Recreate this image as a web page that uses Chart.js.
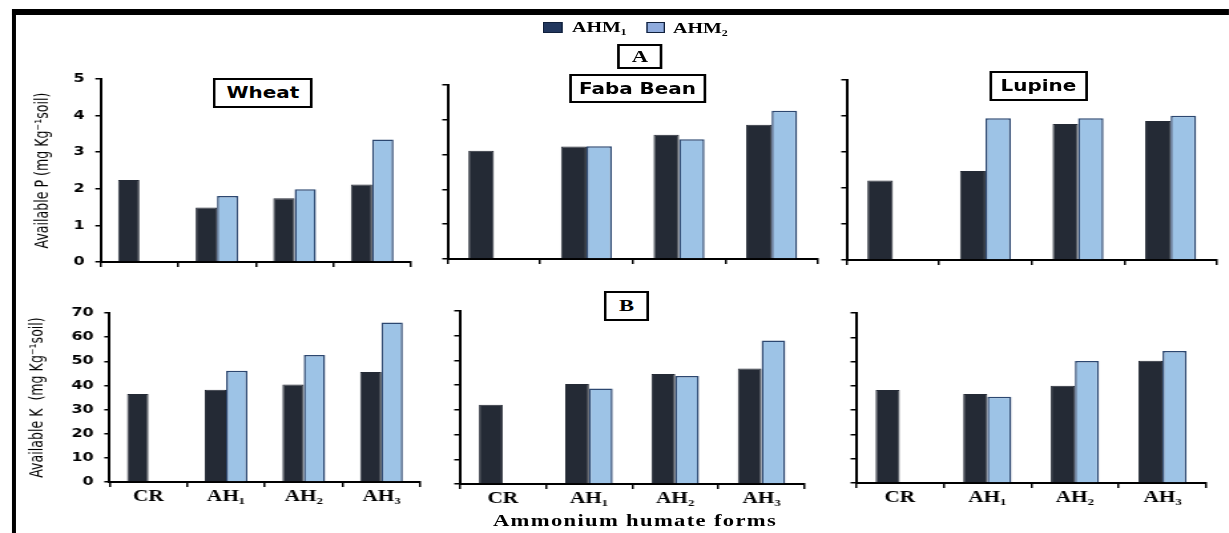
<!DOCTYPE html>
<html>
<head>
<meta charset="utf-8">
<script src="https://cdn.jsdelivr.net/npm/chart.js@4.4.1/dist/chart.umd.min.js"></script>
<style>
  html, body { margin: 0; padding: 0; background: #fff; overflow: hidden; }
  body { width: 1229px; height: 533px; position: relative; }
  #stage { position: absolute; left: 0; top: 0; height: 533px; transform-origin: 0 0; }
  #stage canvas { position: absolute; }
  .frame { position: absolute; background: #000; }
  .box {
    position: absolute; box-sizing: border-box; border: 2px solid #000; background: #fff;
    display: flex; align-items: center; justify-content: center; color: #000;
  }
  .crop { font-family: "DejaVu Sans", Verdana, sans-serif; font-weight: bold; font-size: 15px; }
  .part { font-family: "Liberation Serif", "Times New Roman", serif; font-weight: bold; font-size: 17px; }
  .leg-swatch { position: absolute; box-sizing: border-box; border: 1px solid #10203c; }
  .leg-text, .axis-name {
    position: absolute; font-family: "Liberation Serif", "Times New Roman", serif;
    font-weight: bold; color: #000; white-space: nowrap;
  }
  .leg-text { font-size: 15px; line-height: 15px; }
  .axis-name { font-size: 17px; letter-spacing: 1px; line-height: 17px; }
</style>
</head>
<body>
<div id="stage"></div>
<script>
// Ammonium humate forms on the x axis
const categories = ['CR', 'AH\u2081', 'AH\u2082', 'AH\u2083'];
const seriesNames = ['AHM\u2081', 'AHM\u2082'];

// Available P (mg/kg soil)
const wheatP_AHM1  = [2.24, 1.49, 1.74, 2.12];
const wheatP_AHM2  = [null, 1.80, 1.99, 3.35];
const fabaP_AHM1   = [3.11, 3.23, 3.57, 3.86];
const fabaP_AHM2   = [null, 3.24, 3.44, 4.26];
const lupineP_AHM1 = [2.21, 2.47, 3.78, 3.86];
const lupineP_AHM2 = [null, 3.94, 3.94, 4.01];

// Available K (mg/kg soil)
const wheatK_AHM1  = [36.5, 38.2, 40.4, 45.6];
const wheatK_AHM2  = [null, 46.1, 52.6, 66.1];
const fabaK_AHM1   = [32.1, 40.5, 44.5, 46.7];
const fabaK_AHM2   = [null, 38.6, 43.7, 58.1];
const lupineK_AHM1 = [38.3, 36.6, 40.0, 50.3];
const lupineK_AHM2 = [null, 35.5, 50.2, 54.4];

// Y axis tick values
const pTicks = [0, 1, 2, 3, 4, 5];
const kTicks = [0, 10, 20, 30, 40, 50, 60, 70];

// ---- page layout ----
const SX = 1.33;                 // horizontal stretch of the whole figure
const W = 1229 / SX;
const stage = document.getElementById('stage');
stage.style.width = W + 'px';
stage.style.transform = 'scaleX(' + SX + ')';
const u = x => x / SX;           // page x -> stage x

const DARK = '#242a35';
const LIGHT = '#9dc3e6';
const EDGE = '#2c4770';

function add(cls, x, y, w, h, html) {
  const el = document.createElement('div');
  el.className = cls;
  el.style.left = u(x) + 'px';
  el.style.top = y + 'px';
  if (w != null) el.style.width = u(w) + 'px';
  if (h != null) el.style.height = h + 'px';
  if (html != null) el.innerHTML = html;
  stage.appendChild(el);
  return el;
}

// outer frame (top and left)
add('frame', 12, 9, 1229 - 12, 6);
add('frame', 12, 9, 4, 533 - 9);

const PT = 12, PR = 8;

const panels = [
  { a: wheatP_AHM1,  b: wheatP_AHM2,  ticks: pTicks, L: 100, R: 410,  T: 79,  B: 262, cx: 18,  xh: 10, showX: false, showY: true,
    title: 'Available P (mg Kg\u207B\u00B9soil)', titlePad: 10 },
  { a: fabaP_AHM1,   b: fabaP_AHM2,   ticks: pTicks, L: 448, R: 818,  T: 85,  B: 259, cx: 438, xh: 10, showX: false, showY: false },
  { a: lupineP_AHM1, b: lupineP_AHM2, ticks: pTicks, L: 847, R: 1218, T: 80,  B: 260, cx: 837, xh: 10, showX: false, showY: false },
  { a: wheatK_AHM1,  b: wheatK_AHM2,  ticks: kTicks, L: 109, R: 420,  T: 313, B: 482, cx: 18,  xh: 30, showX: true,  showY: true,
    title: 'Available K  (mg Kg\u207B\u00B9soil)', titlePad: 6 },
  { a: fabaK_AHM1,   b: fabaK_AHM2,   ticks: kTicks, L: 460, R: 805,  T: 311, B: 484, cx: 450, xh: 30, showX: true,  showY: false },
  { a: lupineK_AHM1, b: lupineK_AHM2, ticks: kTicks, L: 856, R: 1207, T: 313, B: 483, cx: 846, xh: 30, showX: true,  showY: false }
];

function makePanel(p) {
  const top = p.T - PT;
  const canvas = document.createElement('canvas');
  canvas.width = Math.round(u(p.R + PR - p.cx));
  canvas.height = p.B + p.xh - top;
  canvas.style.left = u(p.cx) + 'px';
  canvas.style.top = top + 'px';
  stage.appendChild(canvas);
  const yw = u(p.L - p.cx);
  const tk = p.ticks;
  new Chart(canvas, {
    type: 'bar',
    data: {
      labels: categories,
      datasets: [
        { label: seriesNames[0], data: p.a, backgroundColor: DARK, borderColor: DARK, borderWidth: 1 },
        { label: seriesNames[1], data: p.b, backgroundColor: LIGHT, borderColor: EDGE, borderWidth: 1.5 }
      ]
    },
    options: {
      responsive: false,
      animation: false,
      devicePixelRatio: 1,
      layout: { padding: { top: PT, right: u(PR), left: 0, bottom: 0 } },
      plugins: { legend: { display: false }, tooltip: { enabled: false } },
      datasets: { bar: { categoryPercentage: 0.55, barPercentage: 1 } },
      scales: {
        x: {
          grid: { display: true, drawOnChartArea: false, drawTicks: true, tickLength: 5, color: '#000', lineWidth: 1.5 },
          border: { display: true, color: '#000', width: 2 },
          ticks: {
            display: p.showX, color: '#000', padding: 0, maxRotation: 0, autoSkip: false,
            font: { family: '"Liberation Serif", "Times New Roman", serif', size: 16, weight: 'bold' }
          },
          afterFit: s => { s.height = p.xh; s.paddingLeft = 0; s.paddingRight = 0; }
        },
        y: {
          min: tk[0], max: tk[tk.length - 1],
          grid: { display: true, drawOnChartArea: false, drawTicks: true, tickLength: 4, color: '#000', lineWidth: 1.5 },
          border: { display: true, color: '#000', width: 2 },
          ticks: {
            display: p.showY, stepSize: tk[1] - tk[0], color: '#000', padding: 8,
            font: { family: '"DejaVu Sans", Verdana, sans-serif', size: 12, weight: 'bold' }
          },
          title: {
            display: !!p.title, text: p.title || '', color: '#000',
            padding: { top: p.titlePad || 0, bottom: 0 },
            font: { family: '"Liberation Sans Narrow", "DejaVu Sans Condensed", Roboto, sans-serif', size: 14, weight: 'normal' }
          },
          afterFit: s => { s.width = yw; s.paddingTop = 0; s.paddingBottom = 0; }
        }
      }
    }
  });
}
panels.forEach(makePanel);

// crop names and part labels
add('box crop', 213, 78, 100, 30, 'Wheat');
add('box crop', 569, 74, 137, 29, 'Faba Bean');
add('box crop', 989, 71, 99, 30, 'Lupine');
add('box part', 617, 44, 46, 25, 'A');
add('box part', 604, 291, 45, 30, 'B');

// legend
const sw1 = add('leg-swatch', 543, 22, 19, 11);
sw1.style.background = '#22375e';
add('leg-text', 572, 20, null, null, seriesNames[0]);
const sw2 = add('leg-swatch', 646, 22, 19, 11);
sw2.style.background = '#8fabdd';
add('leg-text', 673, 21, null, null, seriesNames[1]);

// x axis name
const xn = add('axis-name', 635, 512, null, null, 'Ammonium humate forms');
xn.style.transform = 'translateX(-50%)';
</script>
</body>
</html>
